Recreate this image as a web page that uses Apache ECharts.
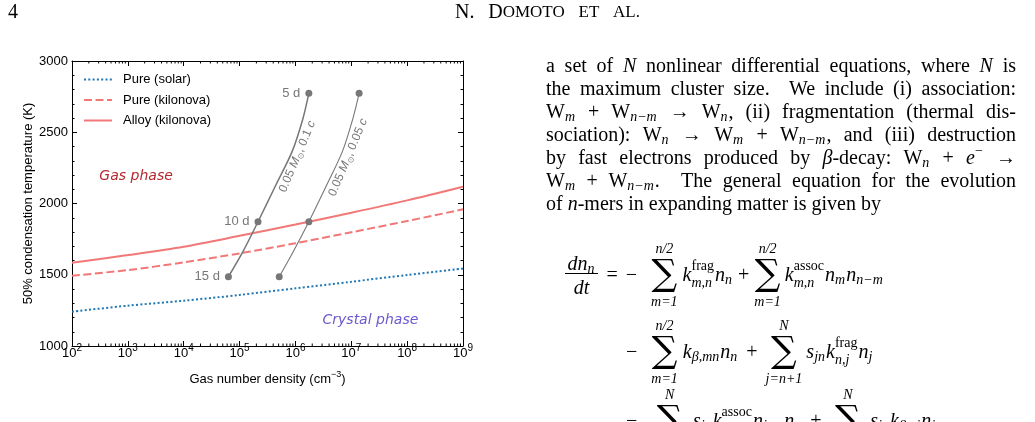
<!DOCTYPE html>
<html>
<head>
<meta charset="utf-8">
<title>Condensation temperature</title>
<script src="https://cdn.jsdelivr.net/npm/echarts@6.0.0/dist/echarts.min.js"></script>
<style>
  html, body { margin: 0; padding: 0; background: #fff; }
  #chart { width: 1035px; height: 422px; }
</style>
</head>
<body>
<div id="chart"></div>
<script>
// gas number density, as log10(n / cm^-3)
const densityExp = [2, 3, 4, 5, 6, 7, 8, 9];
// 50% condensation temperature (K) at each density
const pureSolar = [1241, 1283, 1318, 1358, 1405, 1451, 1498, 1543];
const pureKilonova = [1493, 1533, 1587, 1650, 1721, 1798, 1877, 1959];
const alloyKilonova = [1584, 1638, 1697, 1773, 1852, 1935, 2022, 2118];

// ejecta tracks, [log10 n, T]
const track01c = [[6.24, 2773], [6.13, 2590], [5.94, 2364], [5.65, 2130], [5.33, 1872], [5.06, 1662], [4.80, 1486]];
const track005c = [[7.14, 2773], [7.03, 2598], [6.84, 2364], [6.56, 2130], [6.24, 1872], [5.96, 1662], [5.71, 1486]];
const dayLabels = ['5 d', '', '', '', '10 d', '', '15 d'];

const seriesNames = ['Pure (solar)', 'Pure (kilonova)', 'Alloy (kilonova)'];

const chart = echarts.init(document.getElementById('chart'));
const SANS = 'Liberation Sans';
const RED = '#f27878';
const BLUE = '#1f77b4';
const GRAY = '#777777';

function curve(name, vals, color, type) {
  return {
    name: name, type: 'line', smooth: 0.3, symbol: 'none', z: 3,
    data: densityExp.map((x, i) => [x, vals[i]]),
    lineStyle: { color: color, width: 2, type: type, cap: 'butt' },
    itemStyle: { color: color }
  };
}

function track(pts, width, withLabels) {
  return {
    type: 'line', smooth: 0.3, z: 4, symbolSize: 7, showSymbol: true,
    lineStyle: { color: GRAY, width: width },
    itemStyle: { color: GRAY },
    data: pts.map((p, i) => ({
      value: p,
      symbol: dayLabels[i] ? 'circle' : 'none',
      label: {
        show: withLabels && !!dayLabels[i], formatter: dayLabels[i], position: 'left',
        distance: 5, color: GRAY, fontSize: 13, fontFamily: SANS
      }
    }))
  };
}

// minor ticks of the log density axis (2..9 x 10^k)
const minorX = [];
for (let k = 2; k < 9; k++) for (let m = 2; m < 10; m++) minorX.push([k + Math.log10(m), 1000]);

const xBase = {
  type: 'value', min: 2, max: 9, interval: 1,
  axisLine: { show: true, onZero: false, lineStyle: { color: '#000', width: 1 } },
  axisTick: { show: true, inside: true, length: 5, lineStyle: { color: '#000' } },
  splitLine: { show: false }
};
const yBase = {
  type: 'value', min: 1000, max: 3000, interval: 500,
  axisLine: { show: true, onZero: false, lineStyle: { color: '#000', width: 1 } },
  axisTick: { show: true, inside: true, length: 5, lineStyle: { color: '#000' } },
  minorTick: { show: true, splitNumber: 5, length: 2.5, lineStyle: { color: '#000' } },
  splitLine: { show: false }
};

const option = {
  animation: false,
  textStyle: { fontFamily: SANS },
  grid: { left: 72, top: 61, right: 572, bottom: 76 },
  legend: {
    data: seriesNames, orient: 'vertical', left: 78, top: 68, selectedMode: false,
    itemWidth: 28, itemHeight: 12, itemGap: 7.5,
    itemStyle: { color: 'transparent', borderWidth: 0, opacity: 0 },
    textStyle: { fontSize: 13, fontFamily: SANS, color: '#000', padding: [0, 0, 0, 6] }
  },
  xAxis: [
    Object.assign({}, xBase, {
      position: 'bottom',
      name: 'Gas number density (cm{s|−3})', nameLocation: 'middle', nameGap: 24,
      nameTextStyle: {
        fontSize: 13, color: '#000', fontFamily: SANS, lineHeight: 18,
        rich: { s: { fontSize: 9, lineHeight: 10, verticalAlign: 'top', fontFamily: SANS, color: '#000' } }
      },
      axisLabel: {
        margin: -3, color: '#000',
        formatter: v => '{b|10}{s|' + v + '}',
        rich: {
          b: { fontSize: 13, lineHeight: 20, fontFamily: SANS, color: '#000' },
          s: { fontSize: 10, lineHeight: 11, verticalAlign: 'top', fontFamily: SANS, color: '#000' }
        }
      }
    }),
    Object.assign({}, xBase, { position: 'top', axisLabel: { show: false } })
  ],
  yAxis: [
    Object.assign({}, yBase, {
      position: 'left',
      name: '50% condensation temperature (K)', nameLocation: 'middle', nameGap: 37,
      nameTextStyle: { fontSize: 13, color: '#000', fontFamily: SANS },
      axisLabel: { margin: 4, fontSize: 13, color: '#000', fontFamily: SANS, formatter: v => String(v) }
    }),
    Object.assign({}, yBase, { position: 'right', axisLabel: { show: false } })
  ],
  series: [
    curve(seriesNames[0], pureSolar, BLUE, [2, 2.3]),
    curve(seriesNames[1], pureKilonova, RED, [8, 3.5]),
    curve(seriesNames[2], alloyKilonova, RED, 'solid'),
    track(track01c, 1.5, true),
    track(track005c, 1.1, false),
    {
      type: 'custom', silent: true, clip: false, z: 5, data: minorX,
      renderItem: (params, api) => {
        const v = api.value(0);
        const b = api.coord([v, 1000]);
        const t = api.coord([v, 3000]);
        return {
          type: 'group', children: [
            { type: 'line', shape: { x1: b[0], y1: b[1], x2: b[0], y2: b[1] - 2.5 }, style: { stroke: '#000', lineWidth: 1 } },
            { type: 'line', shape: { x1: t[0], y1: t[1], x2: t[0], y2: t[1] + 2.5 }, style: { stroke: '#000', lineWidth: 1 } }
          ]
        };
      }
    }
  ]
};
chart.setOption(option);

// ---------- annotations inside the plot ----------
const g = [];
const phaseNotes = [
  { text: 'Gas phase', at: [2.49, 2188], color: '#b5282e' },
  { text: 'Crystal phase', at: [6.485, 1182], color: '#6a5acd' }
];
phaseNotes.forEach(n => {
  const p = chart.convertToPixel({ gridIndex: 0 }, n.at);
  g.push({ type: 'text', x: p[0], y: p[1], silent: true, z: 10,
    style: { text: n.text, font: 'italic 14px "DejaVu Sans"', fill: n.color, align: 'left', verticalAlign: 'middle' } });
});
const trackNotes = [
  { text: '0.05 {m|M}{o|⊙}, 0.1 {m|c}', at: [6.034, 2329] },
  { text: '0.05 {m|M}{o|⊙}, 0.05 {m|c}', at: [6.943, 2323] }
];
trackNotes.forEach(n => {
  const p = chart.convertToPixel({ gridIndex: 0 }, n.at);
  g.push({ type: 'text', x: p[0], y: p[1], rotation: 67 * Math.PI / 180, silent: true, z: 10,
    style: {
      text: n.text, font: '12px "Liberation Sans"', fill: GRAY, lineHeight: 16,
      align: 'center', verticalAlign: 'middle',
      rich: {
        m: { fontStyle: 'italic', fontSize: 12, fontFamily: SANS, fill: GRAY, lineHeight: 16 },
        o: { fontSize: 8, fontFamily: SANS, fill: GRAY, lineHeight: 8, verticalAlign: 'bottom' }
      }
    } });
});

// ---------- page text (tiny typesetter) ----------
const SERIF = '"Liberation Serif"';
const F = 20, S = 14;
const KIND = {
  r: { size: F, style: '', fam: SERIF },
  i: { size: F, style: 'italic ', fam: SERIF },
  s: { size: S, style: '', fam: SERIF },
  si: { size: S, style: 'italic ', fam: SERIF },
  sc: { size: 17, style: '', fam: SERIF },
  big: { size: 36, style: '', fam: '"DejaVu Serif"' }
};
const fontOf = k => KIND[k].style + KIND[k].size + 'px ' + KIND[k].fam;
const ctx = document.createElement('canvas').getContext('2d');
function width(t, k) { ctx.font = fontOf(k); return ctx.measureText(t).width; }
function part(t, k, dx, dy, align) { return { t: t, k: k, dx: dx || 0, dy: dy || 0, align: align || 'left' }; }

function box(tag, t) {
  switch (tag) {
    case 'r': case 'i': case 'sc': return { w: width(t, tag), parts: [part(t, tag)] };
    case 'b': return { w: width(t, 'si') + 1, parts: [part(t, 'si', 0, 4)] };
    case 'br': return { w: width(t, 's') + 1, parts: [part(t, 's', 0, 4)] };
    case 'p': return { w: width(t, 's') + 1, parts: [part(t, 's', 0, -8)] };
    case 'g': return { w: +t, parts: [] };
    case 'st': {
      const ab = t.split(';');
      const w = Math.max(width(ab[0], 's'), width(ab[1], 'si')) + 1;
      return { w: w, parts: [part(ab[0], 's', 0, -10), part(ab[1], 'si', 0, 7)] };
    }
    case 'sum': {
      const ab = t.split(';');
      const w = Math.max(width('∑', 'big'), width(ab[0], 'si'), width(ab[1], 'si'));
      return { w: w, parts: [part('∑', 'big', w / 2, -2, 'center'), part(ab[0], 'si', w / 2, -27, 'center'), part(ab[1], 'si', w / 2, 26, 'center')] };
    }
  }
}

function boxes(str) {
  const out = [];
  const re = /\{(\w+)\|([^}]*)\}|([^{]+)/g;
  let m;
  while ((m = re.exec(str)) !== null) {
    if (m[3] !== undefined) {
      m[3].split(/( )/).forEach(p => {
        if (p === ' ') out.push({ space: true, w: width(' ', 'r'), parts: [] });
        else if (p) out.push(box('r', p));
      });
    } else out.push(box(m[1], m[2]));
  }
  return out;
}

function typeset(str, x, base, justify, out) {
  const bs = boxes(str);
  const natural = bs.reduce((a, b) => a + b.w, 0);
  const nsp = bs.filter(b => b.space).length;
  const extra = justify && nsp ? (justify - natural) / nsp : 0;
  let cx = x;
  bs.forEach(b => {
    b.parts.forEach(p => {
      const y = p.k === 'big' ? base + p.dy : base + p.dy - 0.12 * KIND[p.k].size;
      out.push({ type: 'text', x: cx + p.dx, y: y, silent: true,
        style: { text: p.t, font: fontOf(p.k), fill: '#000', align: p.align, verticalAlign: 'middle' } });
    });
    cx += b.w + (b.space ? extra : 0);
  });
  return natural;
}

// running head
typeset('4', 8, 15, 0, g);
typeset('N. D{sc|OMOTO} {sc|ET} {sc|AL.}', 455, 15, 185, g);

// right column paragraph
const para = [
  'a set of {i|N} nonlinear differential equations, where {i|N} is',
  'the maximum cluster size.  We include (i) association:',
  'W{b|m} + W{b|n−m} → W{b|n}, (ii) fragmentation (thermal dis-',
  'sociation): W{b|n} → W{b|m} + W{b|n−m}, and (iii) destruction',
  'by fast electrons produced by {i|β}-decay: W{b|n} + {i|e}{p|−} →',
  'W{b|m} + W{b|n−m}.  The general equation for the evolution',
  'of {i|n}-mers in expanding matter is given by'
];
para.forEach((l, i) => typeset(l, 546, 69 + i * 23, i < para.length - 1 ? 470 : 0, g));

// equation
const numW = boxes('{i|dn}{b|n}').reduce((a, b) => a + b.w, 0);
const denW = boxes('{i|dt}').reduce((a, b) => a + b.w, 0);
typeset('{i|dn}{b|n}', 581.5 - numW / 2, 267, 0, g);
typeset('{i|dt}', 581.5 - denW / 2, 291, 0, g);
g.push({ type: 'line', silent: true, shape: { x1: 565, y1: 273.5, x2: 598, y2: 273.5 }, style: { stroke: '#000', lineWidth: 1 } });
typeset('={g|8}−{g|14}{sum|n/2;m=1}{g|5}{i|k}{st|frag;m,n}{i|n}{b|n}{g|5}+{g|5}{sum|n/2;m=1}{g|4}{i|k}{st|assoc;m,n}{i|n}{b|m}{i|n}{b|n−m}', 606.5, 278, 0, g);
typeset('−{g|14}{sum|n/2;m=1}{g|5}{i|k}{b|β,mn}{i|n}{b|n}{g|8}+{g|8}{sum|N;j=n+1}{g|4}{i|s}{b|jn}{i|k}{st|frag;n,j}{i|n}{b|j}', 626, 355, 0, g);
typeset('−{g|14}{sum|N;j=n+1}{g|5}{i|s}{b|jn}{i|k}{st|assoc;n,j}{i|n}{b|j−n}{i|n}{b|n}{g|8}+{g|8}{sum|N;j=n+1}{g|4}{i|s}{b|jn}{i|k}{b|β,nj}{i|n}{b|j}', 626, 424, 0, g);

chart.setOption({ graphic: { elements: g } });
</script>
</body>
</html>
